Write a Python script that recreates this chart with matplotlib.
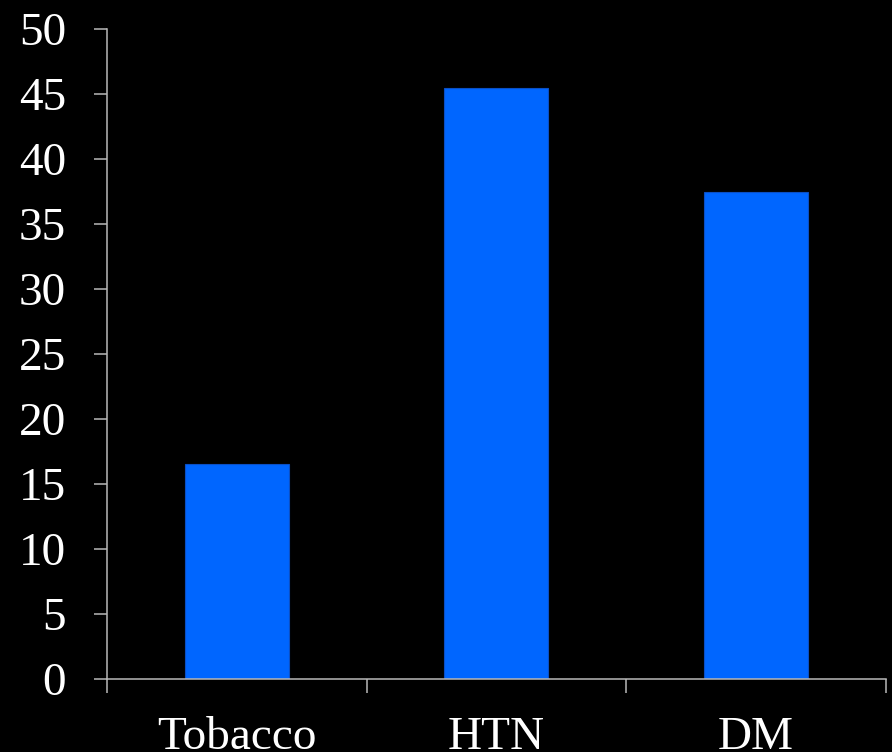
import matplotlib
matplotlib.use("Agg")
import matplotlib.pyplot as plt
import numpy as np

categories = ["Tobacco", "HTN", "DM"]
values = [16.5, 45.4, 37.4]
y_ticks = [0, 5, 10, 15, 20, 25, 30, 35, 40, 45, 50]

plt.rcParams["font.family"] = ["Liberation Serif", "DejaVu Serif"]

fig = plt.figure(figsize=(8.92, 7.52), dpi=100, facecolor="black")
ax = fig.add_axes([107 / 892, 73 / 752, (885.5 - 107) / 892, (679 - 28.5) / 752])
ax.set_facecolor("black")

x = np.arange(len(categories))
ax.bar(x, values, width=0.4, color="#0066FF", edgecolor="#0b4fc4", linewidth=0.8, zorder=2)

ax.set_xlim(-0.5, len(categories) - 0.5)
ax.set_ylim(0, 50)

axis_col = "#b8b8b8"
for side in ("top", "right"):
    ax.spines[side].set_visible(False)
for side in ("left", "bottom"):
    ax.spines[side].set_color(axis_col)
    ax.spines[side].set_linewidth(1.1)

ax.set_yticks(y_ticks)
ax.set_yticklabels([str(v) for v in y_ticks])
ax.tick_params(axis="y", direction="out", length=9.5, width=1.1, color=axis_col,
               labelcolor="white", labelsize=34, pad=20)

# category boundaries carry tick marks; names sit at the centres
ax.set_xticks(np.arange(-0.5, len(categories), 1.0))
ax.set_xticklabels([])
ax.tick_params(axis="x", which="major", direction="out", length=10, width=1.1, color=axis_col)
ax.set_xticks(x, minor=True)
ax.set_xticklabels(categories, minor=True)
ax.tick_params(axis="x", which="minor", length=0, labelcolor="white", labelsize=34, pad=27)

fig.savefig("out.png", dpi=100, facecolor="black")
